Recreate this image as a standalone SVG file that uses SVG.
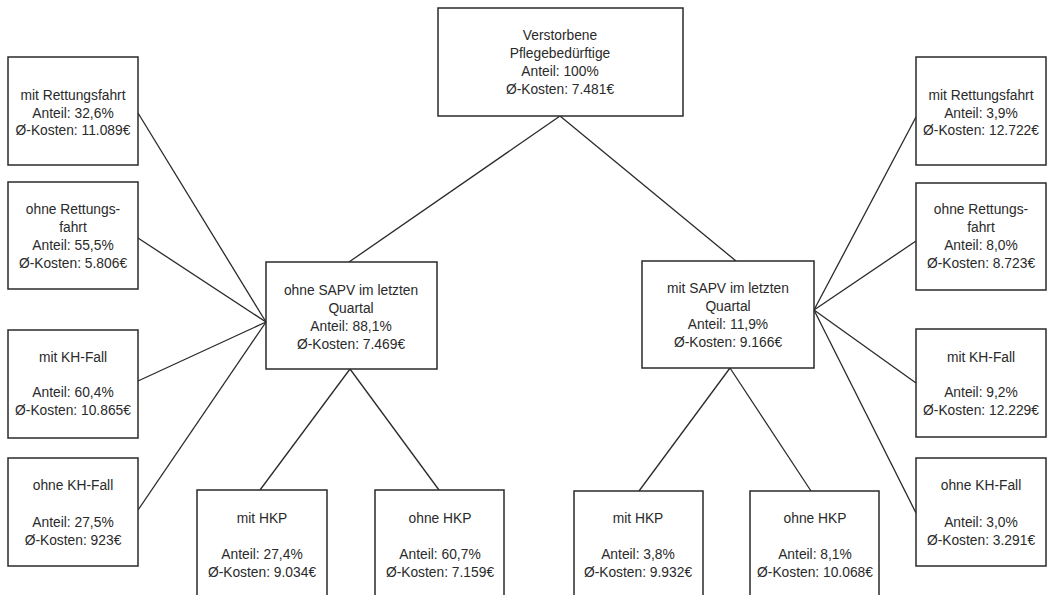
<svg xmlns="http://www.w3.org/2000/svg" width="1051" height="595" viewBox="0 0 1051 595">
<style>
.box{fill:#fff;stroke:#2a2a2a;stroke-width:1.5}
.t{font-family:"Liberation Sans",Arial,sans-serif;font-size:13.8px;fill:#2a2a2a;text-anchor:middle}
.c line{stroke:#2a2a2a;stroke-width:1.3}
</style>
<rect width="1051" height="595" fill="#fff"/>
<g class="c" id="connectors">
<line x1="560" y1="116" x2="349" y2="262"/>
<line x1="560" y1="116" x2="736" y2="261"/>
<line x1="350" y1="369" x2="260" y2="490"/>
<line x1="350" y1="369" x2="439" y2="490"/>
<line x1="730" y1="368" x2="639" y2="491"/>
<line x1="730" y1="368" x2="811" y2="491"/>
<line x1="266" y1="322" x2="138" y2="113"/>
<line x1="266" y1="322" x2="138" y2="238"/>
<line x1="266" y1="322" x2="138" y2="381"/>
<line x1="266" y1="322" x2="138" y2="510"/>
<line x1="814" y1="310" x2="916" y2="117"/>
<line x1="814" y1="310" x2="916" y2="241"/>
<line x1="814" y1="310" x2="916" y2="383"/>
<line x1="814" y1="310" x2="916" y2="513"/>
</g>
<g id="root">
<rect class="box" x="438" y="8" width="245" height="108"/>
<text class="t" x="560" y="40">Verstorbene</text>
<text class="t" x="560" y="58">Pflegebedürftige</text>
<text class="t" x="560" y="76">Anteil: 100%</text>
<text class="t" x="560" y="94">Ø-Kosten: 7.481€</text>
</g>
<g id="ohne-sapv">
<rect class="box" x="266" y="262" width="171" height="107"/>
<text class="t" x="351" y="295">ohne SAPV im letzten</text>
<text class="t" x="351" y="313">Quartal</text>
<text class="t" x="351" y="331">Anteil: 88,1%</text>
<text class="t" x="351" y="349">Ø-Kosten: 7.469€</text>
</g>
<g id="mit-sapv">
<rect class="box" x="642" y="261" width="172" height="107"/>
<text class="t" x="728" y="293">mit SAPV im letzten</text>
<text class="t" x="728" y="311">Quartal</text>
<text class="t" x="728" y="329">Anteil: 11,9%</text>
<text class="t" x="728" y="347">Ø-Kosten: 9.166€</text>
</g>
<g id="l-mit-rf">
<rect class="box" x="8" y="57" width="130" height="108"/>
<text class="t" x="73" y="100">mit Rettungsfahrt</text>
<text class="t" x="73" y="118">Anteil: 32,6%</text>
<text class="t" x="73" y="135">Ø-Kosten: 11.089€</text>
</g>
<g id="l-ohne-rf">
<rect class="box" x="8" y="182" width="130" height="107"/>
<text class="t" x="73" y="214">ohne Rettungs-</text>
<text class="t" x="73" y="232">fahrt</text>
<text class="t" x="73" y="250">Anteil: 55,5%</text>
<text class="t" x="73" y="268">Ø-Kosten: 5.806€</text>
</g>
<g id="l-mit-kh">
<rect class="box" x="8" y="330" width="130" height="108"/>
<text class="t" x="73" y="362">mit KH-Fall</text>
<text class="t" x="73" y="397">Anteil: 60,4%</text>
<text class="t" x="73" y="415">Ø-Kosten: 10.865€</text>
</g>
<g id="l-ohne-kh">
<rect class="box" x="8" y="458" width="130" height="108"/>
<text class="t" x="73" y="490">ohne KH-Fall</text>
<text class="t" x="73" y="527">Anteil: 27,5%</text>
<text class="t" x="73" y="545">Ø-Kosten: 923€</text>
</g>
<g id="r-mit-rf">
<rect class="box" x="916" y="57" width="130" height="108"/>
<text class="t" x="981" y="100">mit Rettungsfahrt</text>
<text class="t" x="981" y="118">Anteil: 3,9%</text>
<text class="t" x="981" y="135">Ø-Kosten: 12.722€</text>
</g>
<g id="r-ohne-rf">
<rect class="box" x="916" y="183" width="130" height="107"/>
<text class="t" x="981" y="214">ohne Rettungs-</text>
<text class="t" x="981" y="232">fahrt</text>
<text class="t" x="981" y="250">Anteil: 8,0%</text>
<text class="t" x="981" y="268">Ø-Kosten: 8.723€</text>
</g>
<g id="r-mit-kh">
<rect class="box" x="916" y="329" width="130" height="108"/>
<text class="t" x="981" y="362">mit KH-Fall</text>
<text class="t" x="981" y="397">Anteil: 9,2%</text>
<text class="t" x="981" y="415">Ø-Kosten: 12.229€</text>
</g>
<g id="r-ohne-kh">
<rect class="box" x="916" y="458" width="130" height="108"/>
<text class="t" x="981" y="490">ohne KH-Fall</text>
<text class="t" x="981" y="527">Anteil: 3,0%</text>
<text class="t" x="981" y="545">Ø-Kosten: 3.291€</text>
</g>
<g id="l-mit-hkp">
<rect class="box" x="197" y="490" width="130" height="120"/>
<text class="t" x="262" y="523">mit HKP</text>
<text class="t" x="262" y="559">Anteil: 27,4%</text>
<text class="t" x="262" y="577">Ø-Kosten: 9.034€</text>
</g>
<g id="l-ohne-hkp">
<rect class="box" x="375" y="490" width="129" height="120"/>
<text class="t" x="440" y="523">ohne HKP</text>
<text class="t" x="440" y="559">Anteil: 60,7%</text>
<text class="t" x="440" y="577">Ø-Kosten: 7.159€</text>
</g>
<g id="r-mit-hkp">
<rect class="box" x="574" y="491" width="129" height="120"/>
<text class="t" x="638" y="523">mit HKP</text>
<text class="t" x="638" y="559">Anteil: 3,8%</text>
<text class="t" x="638" y="577">Ø-Kosten: 9.932€</text>
</g>
<g id="r-ohne-hkp">
<rect class="box" x="750" y="491" width="129" height="120"/>
<text class="t" x="815" y="523">ohne HKP</text>
<text class="t" x="815" y="559">Anteil: 8,1%</text>
<text class="t" x="815" y="577">Ø-Kosten: 10.068€</text>
</g>
</svg>
